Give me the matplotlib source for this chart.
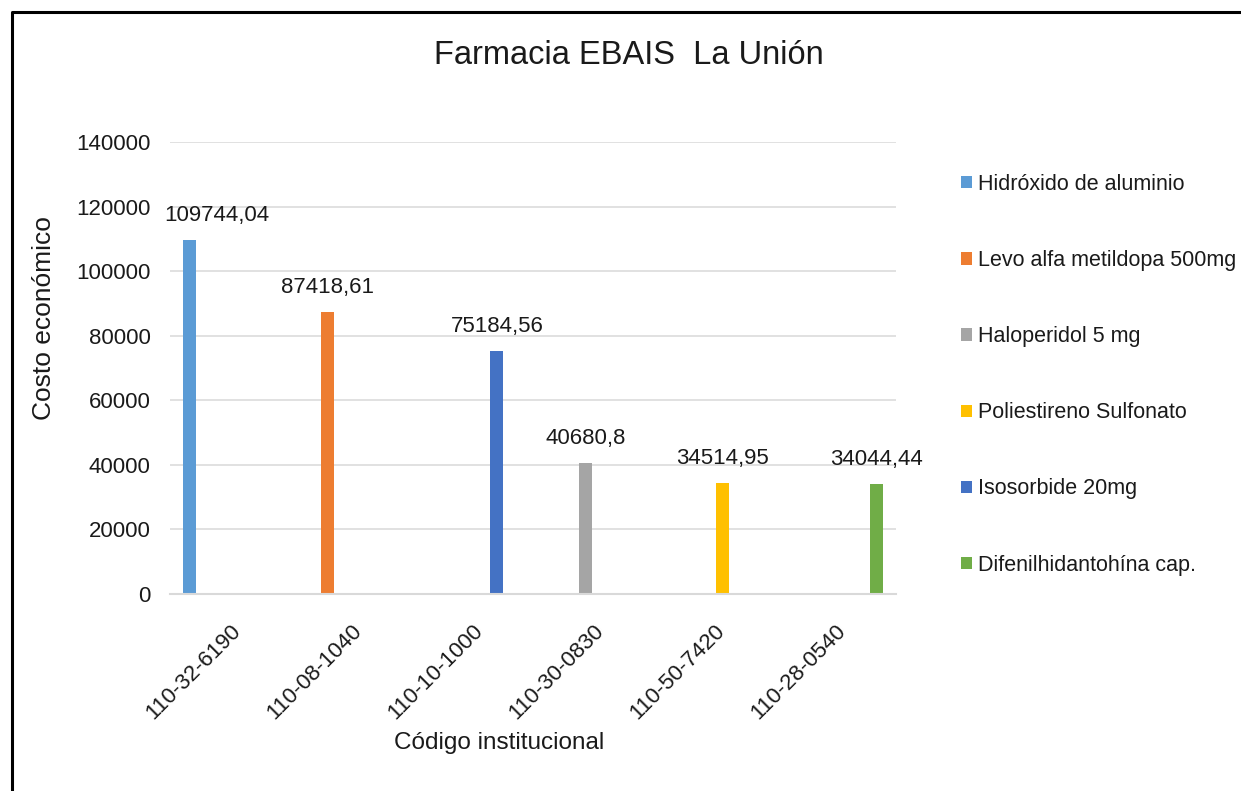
import matplotlib
matplotlib.use("Agg")
import matplotlib.pyplot as plt
from matplotlib.patches import Patch
from matplotlib.lines import Line2D
import numpy as np

plt.rcParams['font.family'] = ['Liberation Sans', 'DejaVu Sans']

# datos
codigos = ["110-32-6190", "110-08-1040", "110-10-1000",
           "110-30-0830", "110-50-7420", "110-28-0540"]
medicamentos = ["Hidróxido de aluminio", "Levo alfa metildopa 500mg",
                "Haloperidol 5 mg", "Poliestireno Sulfonato",
                "Isosorbide 20mg", "Difenilhidantohína cap."]
costos = [109744.04, 87418.61, 75184.56, 40680.8, 34514.95, 34044.44]
# a que medicamento (serie) pertenece cada codigo
serie_de_codigo = [0, 1, 4, 2, 3, 5]
colores = ["#5B9BD5", "#ED7D31", "#A5A5A5", "#FFC000", "#4472C4", "#70AD47"]

texto = "#1a1a1a"

fig = plt.figure(figsize=(12.41, 7.91), dpi=100)
ax = fig.add_axes([170 / 1241, 1 - 594 / 791, 726 / 1241, 452 / 791])

n_series = len(medicamentos)
slot = 0.134
ancho = 0.108
x = np.arange(len(codigos))

for s in range(n_series):
    idx = [i for i, ss in enumerate(serie_de_codigo) if ss == s]
    pos = x[idx] + (s - (n_series - 1) / 2) * slot
    vals = [costos[i] for i in idx]
    ax.bar(pos, vals, width=ancho, color=colores[s], zorder=3)
    for p, v in zip(pos, vals):
        dx = 27 if s == 0 else 0
        ax.annotate(str(v).replace(".", ","), (p, v), xytext=(dx, 14),
                    textcoords="offset pixels", ha="center", va="bottom",
                    fontsize=16, color=texto)

ax.set_xlim(-0.5, len(codigos) - 0.5)
ax.set_ylim(0, 140000)
ax.set_yticks(np.arange(0, 140001, 20000))
ax.set_xticks(x)
ax.set_xticklabels(codigos, rotation=45, ha="right", va="top",
                   rotation_mode="anchor")
ax.tick_params(axis="both", length=0, labelsize=16, labelcolor=texto)
ax.tick_params(axis="y", pad=14)
ax.tick_params(axis="x", pad=19)

ax.grid(axis="y", color="#D9D9D9", linewidth=1.1, zorder=0)
for lado in ["top", "right", "left"]:
    ax.spines[lado].set_visible(False)
ax.spines["bottom"].set_color("#D9D9D9")
ax.spines["bottom"].set_linewidth(1.5)
ax.spines["bottom"].set_zorder(4)

ax.set_ylabel("Costo económico", fontsize=19, color=texto)
ax.yaxis.set_label_coords(-0.173, 0.61)
ax.yaxis.label.set_va("center")
ax.set_xlabel("Código institucional", fontsize=17.5, color=texto)
ax.xaxis.set_label_coords(0.453, -0.33)
ax.xaxis.label.set_va("center")

fig.text(629 / 1241, 1 - 55 / 791, "Farmacia EBAIS  La Unión",
         ha="center", va="center", fontsize=23.5, color=texto)

handles = [Patch(facecolor=c, edgecolor="none") for c in colores]
fig.legend(handles, medicamentos, loc="upper left",
           bbox_to_anchor=(961 / 1241, 1 - 174 / 791), frameon=False,
           fontsize=15.5, handlelength=0.5, handleheight=0.5,
           handletextpad=0.3, labelspacing=2.56, labelcolor=texto,
           borderpad=0, borderaxespad=0)

# marco
fig.add_artist(Line2D([11.5 / 1241, 11.5 / 1241, 1], [0, 1 - 12 / 791, 1 - 12 / 791],
                      transform=fig.transFigure, color="black", linewidth=2.2))

fig.savefig("out.png", dpi=100)
